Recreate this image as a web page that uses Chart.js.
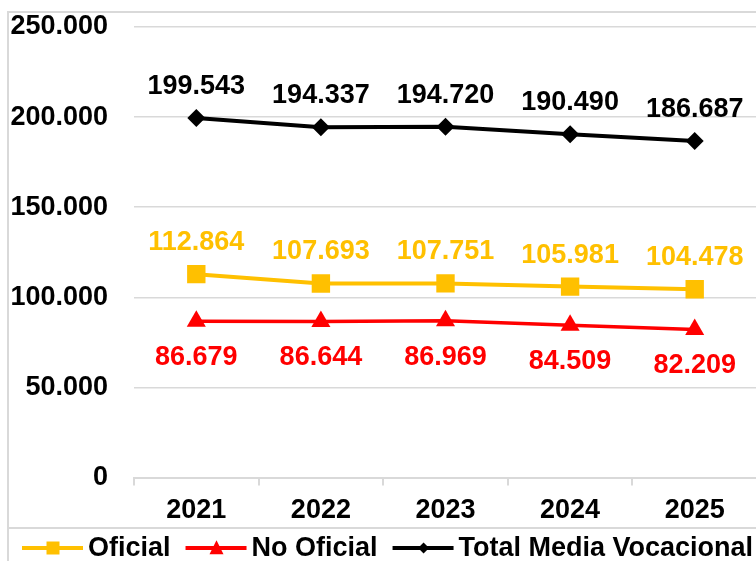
<!DOCTYPE html>
<html>
<head>
<meta charset="utf-8">
<script src="https://cdn.jsdelivr.net/npm/chart.js@4"></script>
<style>
  html, body { margin: 0; padding: 0; background: #fff; overflow: hidden; }
  #wrap { position: relative; width: 770px; height: 561px; }
  #frame { position: absolute; left: 7px; top: 11px; right: 0; bottom: -10px;
           border-left: 2px solid #D9D9D9; border-top: 2px solid #D9D9D9; }
  #legendLine { position: absolute; left: 7px; right: 0; top: 527px; height: 2px; background: #D9D9D9; }
</style>
</head>
<body>
<div id="wrap">
  <div id="frame"></div>
  <div id="legendLine"></div>
  <canvas id="chart"></canvas>
</div>
<script>
// Data
const years = ['2021', '2022', '2023', '2024', '2025'];
const oficial = [112864, 107693, 107751, 105981, 104478];
const noOficial = [86679, 86644, 86969, 84509, 82209];
const totalMedia = [199543, 194337, 194720, 190490, 186687];
const yTicks = [0, 50000, 100000, 150000, 200000, 250000];

const FONT = { family: 'Arial, "Liberation Sans", sans-serif', size: 27, weight: 'bold' };
const fontStr = `bold ${FONT.size}px ${FONT.family}`;

// 199543 -> "199.543"
const fmt = (n) => String(n).replace(/\B(?=(\d{3})+(?!\d))/g, '.');

// Draw a marker shape (used by the legend)
const drawMarker = (ctx, style, x, y, size, color) => {
  ctx.fillStyle = color;
  ctx.beginPath();
  if (style === 'rect') {
    ctx.rect(x - size / 2, y - size / 2, size, size);
  } else if (style === 'triangle') {
    ctx.moveTo(x, y - size * 0.55);
    ctx.lineTo(x + size / 2, y + size * 0.45);
    ctx.lineTo(x - size / 2, y + size * 0.45);
    ctx.closePath();
  } else {
    ctx.moveTo(x, y - size / 2);
    ctx.lineTo(x + size / 2, y);
    ctx.lineTo(x, y + size / 2);
    ctx.lineTo(x - size / 2, y);
    ctx.closePath();
  }
  ctx.fill();
};

// Value labels above / below every point
const valueLabels = {
  id: 'valueLabels',
  afterDatasetsDraw(chart) {
    const ctx = chart.ctx;
    ctx.save();
    ctx.font = fontStr;
    ctx.textAlign = 'center';
    ctx.textBaseline = 'alphabetic';
    chart.data.datasets.forEach((ds, i) => {
      const meta = chart.getDatasetMeta(i);
      meta.data.forEach((pt, j) => {
        ctx.fillStyle = ds.labelColor;
        const yy = ds.labelBelow ? pt.y + 44 : pt.y - 24;
        ctx.fillText(fmt(ds.data[j]), pt.x, yy);
      });
    });
    ctx.restore();
  }
};

// Legend: line + marker + name, in one row at the bottom
const lineLegend = {
  id: 'lineLegend',
  afterDraw(chart) {
    const ctx = chart.ctx;
    const y = chart.height - 13;
    let x = 22;
    ctx.save();
    ctx.font = fontStr;
    ctx.textBaseline = 'middle';
    chart.data.datasets.forEach((ds) => {
      ctx.strokeStyle = ds.borderColor;
      ctx.lineWidth = 4;
      ctx.beginPath();
      ctx.moveTo(x, y);
      ctx.lineTo(x + 61, y);
      ctx.stroke();
      drawMarker(ctx, ds.pointStyle, x + 31, y, ds.legendMarker, ds.borderColor);
      ctx.fillStyle = '#000';
      ctx.textAlign = 'left';
      ctx.fillText(ds.label, x + 66, y + 1);
      x += 66 + ctx.measureText(ds.label).width + 15;
    });
    ctx.restore();
  }
};

const ctx = document.getElementById('chart').getContext('2d');
new Chart(ctx, {
  type: 'line',
  data: {
    labels: years,
    datasets: [
      {
        label: 'Oficial',
        data: oficial,
        borderColor: '#FFC000',
        backgroundColor: '#FFC000',
        borderWidth: 4,
        pointStyle: 'rect',
        pointRadius: 13,
        pointBorderWidth: 0,
        labelColor: '#FFC000',
        labelBelow: false,
        legendMarker: 13
      },
      {
        label: 'No Oficial',
        data: noOficial,
        borderColor: '#FF0000',
        backgroundColor: '#FF0000',
        borderWidth: 3.5,
        pointStyle: 'triangle',
        pointRadius: 11,
        pointBorderWidth: 0,
        labelColor: '#FF0000',
        labelBelow: true,
        legendMarker: 14
      },
      {
        label: 'Total Media Vocacional',
        data: totalMedia,
        borderColor: '#000000',
        backgroundColor: '#000000',
        borderWidth: 4,
        pointStyle: 'rectRot',
        pointRadius: 9,
        pointBorderWidth: 0,
        labelColor: '#000000',
        labelBelow: false,
        legendMarker: 11
      }
    ]
  },
  options: {
    responsive: true,
    maintainAspectRatio: false,
    animation: false,
    layout: { padding: { top: 27, right: 11, bottom: 25, left: 0 } },
    plugins: {
      legend: { display: false },
      tooltip: { enabled: false }
    },
    elements: { line: { tension: 0 } },
    scales: {
      x: {
        offset: true,
        grid: { offset: true, drawOnChartArea: false, drawTicks: true, tickLength: 8, color: '#D9D9D9', lineWidth: 2 },
        border: { display: true, color: '#D9D9D9', width: 2 },
        ticks: { font: FONT, color: '#000', padding: 9, maxRotation: 0 },
        afterFit: (s) => { s.paddingLeft = 0; s.paddingRight = 0; }
      },
      y: {
        min: 0,
        max: 250000,
        afterBuildTicks: (s) => { s.ticks = yTicks.map((v) => ({ value: v })); },
        afterFit: (s) => { s.width = 134; s.paddingTop = 0; s.paddingBottom = 0; },
        grid: { drawTicks: false, color: '#D9D9D9', lineWidth: 1.5 },
        border: { display: false },
        ticks: { font: FONT, color: '#000', padding: 26, callback: (v) => fmt(v) }
      }
    }
  },
  plugins: [valueLabels, lineLegend]
});
</script>
</body>
</html>
